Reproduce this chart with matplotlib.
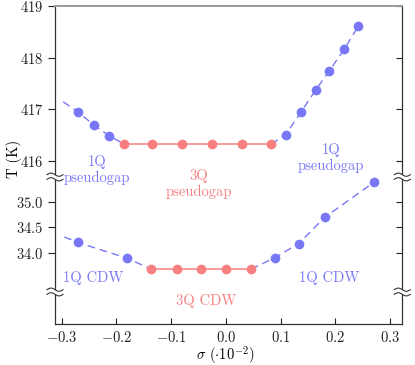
import numpy as np
import matplotlib
matplotlib.use("Agg")
import matplotlib.pyplot as plt
from matplotlib.lines import Line2D
from matplotlib.patches import Polygon

plt.rcParams["font.family"] = "serif"
plt.rcParams["font.serif"] = ["cmr10", "DejaVu Serif"]
plt.rcParams["mathtext.fontset"] = "cm"
plt.rcParams["axes.formatter.use_mathtext"] = True
plt.rcParams["font.size"] = 10

BLUE = "#7878f6"
RED = "#f77f7f"

# pseudogap branch (upper panel)
sigma_pg_edge = [-0.297]
T_pg_edge = [417.14]
sigma_pg_left = [-0.270, -0.241, -0.213]
T_pg_left = [416.94, 416.69, 416.48]
sigma_pg_3q = [-0.186, -0.135, -0.081, -0.025, 0.030, 0.083]
T_pg_3q = [416.32, 416.32, 416.32, 416.32, 416.32, 416.32]
sigma_pg_right = [0.109, 0.137, 0.164, 0.188, 0.216, 0.242]
T_pg_right = [416.50, 416.94, 417.37, 417.73, 418.16, 418.61]

# CDW branch (lower panel)
sigma_cdw_edge = [-0.295]
T_cdw_edge = [34.31]
sigma_cdw_left = [-0.270, -0.180]
T_cdw_left = [34.20, 33.89]
sigma_cdw_3q = [-0.137, -0.090, -0.046, 0.001, 0.046]
T_cdw_3q = [33.68, 33.68, 33.68, 33.68, 33.68]
sigma_cdw_right = [0.089, 0.133, 0.180, 0.270]
T_cdw_right = [33.90, 34.18, 34.69, 35.38]

W, H = 415, 365
fig = plt.figure(figsize=(W / 100, H / 100), dpi=100)

x0, x1 = 55 / W, 402.3 / W
y_top, y_mid, y_bot = 1 - 6 / H, 1 - 177 / H, 1 - 324 / H
ax_top = fig.add_axes([x0, y_mid, x1 - x0, y_top - y_mid])
ax_bot = fig.add_axes([x0, y_bot, x1 - x0, y_mid - y_bot])

dash = (0, (5.5, 3.5))


def draw_branch(ax, edge_x, edge_y, lx, ly, mx, my, rx, ry):
    ax.plot(edge_x + lx + mx[:1], edge_y + ly + my[:1], color=BLUE, lw=1.0, ls=dash, zorder=2)
    ax.plot(mx[-1:] + rx, my[-1:] + ry, color=BLUE, lw=1.0, ls=dash, zorder=2)
    ax.plot(mx, my, color=RED, lw=1.1, zorder=2)
    ax.plot(lx + rx, ly + ry, "o", color=BLUE, ms=7, mec="none", zorder=3)
    ax.plot(mx, my, "o", color=RED, ms=7, mec="none", zorder=3)


draw_branch(ax_top, sigma_pg_edge, T_pg_edge, sigma_pg_left, T_pg_left,
            sigma_pg_3q, T_pg_3q, sigma_pg_right, T_pg_right)
draw_branch(ax_bot, sigma_cdw_edge, T_cdw_edge, sigma_cdw_left, T_cdw_left,
            sigma_cdw_3q, T_cdw_3q, sigma_cdw_right, T_cdw_right)

for ax in (ax_top, ax_bot):
    ax.set_xlim(-0.312, 0.322)
    ax.tick_params(axis="y", which="both", direction="out", length=5, width=0.8,
                   labelsize=10.5, colors="#222")
    ax.tick_params(axis="y", right=True, labelright=False)
    for s in ("left", "right", "bottom", "top"):
        ax.spines[s].set_color("#333")
        ax.spines[s].set_linewidth(0.9)

ax_top.set_ylim(415.68, 419.0)
ax_top.set_yticks([416, 417, 418, 419])
ax_top.spines["bottom"].set_visible(False)
ax_top.spines["top"].set_color("#999")
ax_top.spines["top"].set_linewidth(1.4)
ax_top.tick_params(axis="x", bottom=False, labelbottom=False, top=False)

ax_bot.set_ylim(32.602, 35.484)
ax_bot.set_yticks([34.0, 34.5, 35.0])
ax_bot.yaxis.set_major_formatter(matplotlib.ticker.FormatStrFormatter("$%.1f$"))
ax_bot.spines["top"].set_visible(False)
ax_bot.set_xticks([-0.3, -0.2, -0.1, 0.0, 0.1, 0.2, 0.3])
ax_bot.xaxis.set_major_formatter(matplotlib.ticker.FormatStrFormatter("$%.1f$"))
ax_bot.tick_params(axis="x", direction="in", length=4, width=0.8, labelsize=10.5,
                   colors="#222", pad=4)

# right-side ticks point inward
for ax in (ax_top, ax_bot):
    for t in ax.yaxis.get_major_ticks():
        t.tick2line.set_marker(matplotlib.lines.TICKLEFT)
        t.tick2line.set_markersize(4)


def px(x, y):
    return x / W, 1 - y / H


def break_mark(xc, yc):
    t = np.linspace(-1, 1, 40)
    xs = xc + 8 * t
    upper = yc - 2.3 + 1.6 * np.sin(np.pi * t)
    lower = yc + 2.3 + 1.6 * np.sin(np.pi * t)
    poly = [px(a, b) for a, b in zip(xs, upper)] + [px(a, b) for a, b in zip(xs[::-1], lower[::-1])]
    fig.add_artist(Polygon(poly, closed=True, facecolor="white", edgecolor="none",
                           transform=fig.transFigure, zorder=5))
    for ys in (upper, lower):
        fx, fy = zip(*[px(a, b) for a, b in zip(xs, ys)])
        fig.add_artist(Line2D(fx, fy, color="#333", lw=0.8, transform=fig.transFigure, zorder=6))


for xb in (55, 402.3):
    for yb in (177, 292):
        break_mark(xb, yb)

labels = [
    ("1Q\npseudogap", 97, 170, BLUE),
    ("3Q\npseudogap", 199, 184, RED),
    ("1Q\npseudogap", 331, 158, BLUE),
    ("1Q CDW", 93, 278, BLUE),
    ("3Q CDW", 206, 301, RED),
    ("1Q CDW", 329, 278, BLUE),
]
for txt, xx, yy, c in labels:
    fx, fy = px(xx, yy)
    fig.text(fx, fy, txt, color=c, ha="center", va="center", fontsize=10.5,
             linespacing=1.1, zorder=7)

fx, fy = px(14, 159)
fig.text(fx, fy, "T (K)", rotation=90, ha="center", va="center", fontsize=10.5)
fx, fy = px(225, 355)
fig.text(fx, fy, r"$\sigma$ $(\cdot 10^{-2})$", ha="center", va="center", fontsize=10.5)

fig.savefig("out.png", dpi=100)
